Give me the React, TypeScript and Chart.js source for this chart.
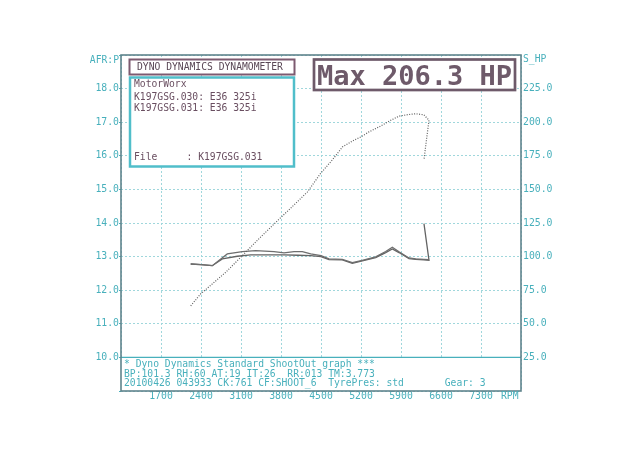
import React, { useEffect, useRef } from "react";
import { Chart, registerables } from "chart.js";

Chart.register(...registerables);

// Power curve (rpm vs HP, right axis)
const POWER_RPM = [2220, 2395, 2598, 2832, 3065, 3430, 3795, 4030, 4260, 4495, 4700, 4873, 5050, 5195, 5340, 5515, 5700, 5865, 6000, 6157, 6300, 6390, 6346, 6302];
const POWER_HP = [63.4, 72.3, 79.7, 88.3, 98.2, 114, 129, 138.5, 148, 162, 172, 181.5, 186, 189, 192.8, 196.5, 201, 204.5, 205.5, 206.3, 205.5, 201.5, 187, 172];

// AFR run .030
const AFR1_RPM = [2220, 2400, 2598, 2860, 3123, 3357, 3678, 3853, 4028, 4173, 4320, 4500, 4640, 4873, 5048, 5223, 5457, 5632, 5748, 5865, 6040, 6157, 6302, 6390];
const AFR1_VAL = [12.78, 12.76, 12.73, 13.08, 13.15, 13.18, 13.15, 13.11, 13.15, 13.15, 13.08, 13.03, 12.93, 12.92, 12.82, 12.89, 12.99, 13.15, 13.28, 13.14, 12.96, 12.93, 12.92, 12.91];

// AFR run .031
const AFR2_RPM = [2220, 2400, 2598, 2773, 3035, 3270, 3620, 3853, 4100, 4320, 4500, 4640, 4873, 5048, 5223, 5457, 5632, 5748, 5865, 6040, 6157, 6302, 6390, 6302];
const AFR2_VAL = [12.78, 12.76, 12.73, 12.93, 13.01, 13.05, 13.05, 13.05, 13.04, 13.03, 13.0, 12.91, 12.9, 12.8, 12.87, 12.97, 13.12, 13.23, 13.12, 12.94, 12.92, 12.9, 12.89, 13.98];

const X_MIN = 1000, X_MAX = 8000, X_STEP = 700;
const AFR_MIN = 9, AFR_MAX = 19;
const HP_MIN = 0, HP_MAX = 250, HP_STEP = 25;

const INFO_LINES = ["MotorWorx", "K197GSG.030: E36 325i", "K197GSG.031: E36 325i"];
const FILE_LINE = "File     : K197GSG.031";
const TITLE_TEXT = "DYNO DYNAMICS DYNAMOMETER";
const MAX_TEXT = "Max 206.3 HP";
const FOOTER_LINES = [
  "* Dyno Dynamics Standard ShootOut graph ***",
  "BP:101.3 RH:60 AT:19 IT:26  RR:013 TM:3.773",
  "20100426 043933 CK:761 CF:SHOOT_6  TyrePres: std       Gear: 3",
];

const MONO = '"DejaVu Sans Mono", "Liberation Mono", monospace';
const TEAL = "rgb(72,176,188)";
const GRID = "rgb(160,215,220)";
const FRAME = "rgb(95,132,140)";
const MAUVE = "rgb(110,90,106)";

function pts(xs: number[], ys: number[]) {
  return xs.map((x, i) => ({ x, y: ys[i] }));
}

const overlay = {
  id: "dynoOverlay",
  afterDatasetsDraw(chart: any) {
    const ctx = chart.ctx as CanvasRenderingContext2D;
    const a = chart.chartArea;
    const ys = chart.scales.y;
    ctx.save();
    // footer box
    const fTop = ys.getPixelForValue(10);
    ctx.fillStyle = "#fff";
    ctx.fillRect(a.left, fTop, a.right - a.left, a.bottom - fTop);
    ctx.strokeStyle = TEAL;
    ctx.lineWidth = 1.2;
    ctx.beginPath();
    ctx.moveTo(a.left, fTop);
    ctx.lineTo(a.right, fTop);
    ctx.stroke();
    ctx.font = "9.7px " + MONO;
    ctx.fillStyle = TEAL;
    ctx.textBaseline = "middle";
    ctx.textAlign = "left";
    FOOTER_LINES.forEach((t, i) => ctx.fillText(t, a.left + 3, fTop + 7.5 + i * 9.3));

    // frame
    ctx.strokeStyle = FRAME;
    ctx.lineWidth = 1.6;
    ctx.strokeRect(a.left, a.top, a.right - a.left, a.bottom - a.top);

    // title box
    ctx.fillStyle = "#fff";
    ctx.fillRect(129, 59, 165, 15.5);
    ctx.strokeStyle = "rgb(125,90,112)";
    ctx.lineWidth = 2;
    ctx.strokeRect(129.5, 59.5, 165, 15);
    ctx.fillStyle = "rgb(90,72,86)";
    ctx.font = "9.7px " + MONO;
    ctx.fillText(TITLE_TEXT, 137, 67.5);

    // info box
    ctx.fillStyle = "#fff";
    ctx.fillRect(129, 77, 165, 90);
    ctx.strokeStyle = "rgb(80,190,202)";
    ctx.lineWidth = 2.5;
    ctx.strokeRect(130, 77.5, 164, 89);
    ctx.fillStyle = "rgb(105,78,96)";
    INFO_LINES.forEach((t, i) => ctx.fillText(t, 134, [84, 97, 108.5][i]));
    ctx.fillText(FILE_LINE, 134, 157.5);

    // max box
    ctx.fillStyle = "#fff";
    ctx.fillRect(313, 58.5, 203, 32);
    ctx.strokeStyle = MAUVE;
    ctx.lineWidth = 2.7;
    ctx.strokeRect(314, 59.5, 201, 30.5);
    ctx.fillStyle = MAUVE;
    ctx.font = "bold 27px " + MONO;
    ctx.textBaseline = "alphabetic";
    ctx.fillText(MAX_TEXT, 317, 84.5);

    // axis captions
    ctx.font = "9.7px " + MONO;
    ctx.fillStyle = TEAL;
    ctx.textBaseline = "middle";
    ctx.textAlign = "right";
    ctx.fillText("AFR:P", 119, 60);
    ctx.textAlign = "left";
    ctx.fillText("S_HP", 523, 59);
    ctx.fillText("RPM", 501, 396.5);
    ctx.restore();
  },
};

export default function App() {
  const ref = useRef<HTMLCanvasElement | null>(null);
  useEffect(() => {
    document.body.style.margin = "0";
    const tickFont = { family: MONO, size: 9.8 };
    const chart = new Chart(ref.current as HTMLCanvasElement, {
      type: "line",
      data: {
        datasets: [
          {
            label: "HP",
            data: pts(POWER_RPM, POWER_HP),
            yAxisID: "y1",
            borderColor: "rgb(95,95,95)",
            borderWidth: 1.2,
            borderDash: [1, 1.5],
            pointRadius: 0,
            tension: 0,
          },
          {
            label: "AFR .030",
            data: pts(AFR1_RPM, AFR1_VAL),
            yAxisID: "y",
            borderColor: "rgb(110,110,110)",
            borderWidth: 1.3,
            pointRadius: 0,
            tension: 0,
          },
          {
            label: "AFR .031",
            data: pts(AFR2_RPM, AFR2_VAL),
            yAxisID: "y",
            borderColor: "rgb(100,100,100)",
            borderWidth: 1.3,
            pointRadius: 0,
            tension: 0,
          },
        ],
      },
      options: {
        responsive: false,
        animation: false,
        layout: { padding: { top: 55, left: 0, right: 0, bottom: 0 } },
        plugins: { legend: { display: false }, tooltip: { enabled: false } },
        scales: {
          x: {
            type: "linear",
            min: X_MIN,
            max: X_MAX,
            ticks: {
              stepSize: X_STEP,
              autoSkip: false,
              maxRotation: 0,
              padding: 0,
              color: TEAL,
              font: tickFont,
              callback: (v: any) => (v === X_MIN || v === X_MAX ? "" : String(v)),
            },
            grid: { color: GRID, drawTicks: false, lineWidth: 1 },
            border: { display: false, dash: [2, 2] },
            afterFit: (s: any) => { s.height = 74; },
          },
          y: {
            position: "left",
            min: AFR_MIN,
            max: AFR_MAX,
            ticks: {
              stepSize: 1,
              padding: 0,
              color: TEAL,
              font: tickFont,
              callback: (v: any) => (v >= 10 && v <= 18 ? Number(v).toFixed(1) : ""),
            },
            grid: { color: GRID, tickLength: 2, tickColor: TEAL, lineWidth: 1 },
            border: { display: false, dash: [2, 2] },
            afterFit: (s: any) => { s.width = 121; },
          },
          y1: {
            position: "right",
            min: HP_MIN,
            max: HP_MAX,
            ticks: {
              stepSize: HP_STEP,
              padding: 2,
              color: TEAL,
              font: tickFont,
              callback: (v: any) => (v >= 25 && v <= 225 ? Number(v).toFixed(1) : ""),
            },
            grid: { drawOnChartArea: false, drawTicks: false },
            border: { display: false },
            afterFit: (s: any) => { s.width = 119; },
          },
        },
      },
      plugins: [overlay],
    });
    return () => chart.destroy();
  }, []);
  return (
    <div style={{ position: "absolute", left: 0, top: 0, width: 640, height: 465, background: "#fff" }}>
      <canvas ref={ref} width={640} height={465} />
    </div>
  );
}
